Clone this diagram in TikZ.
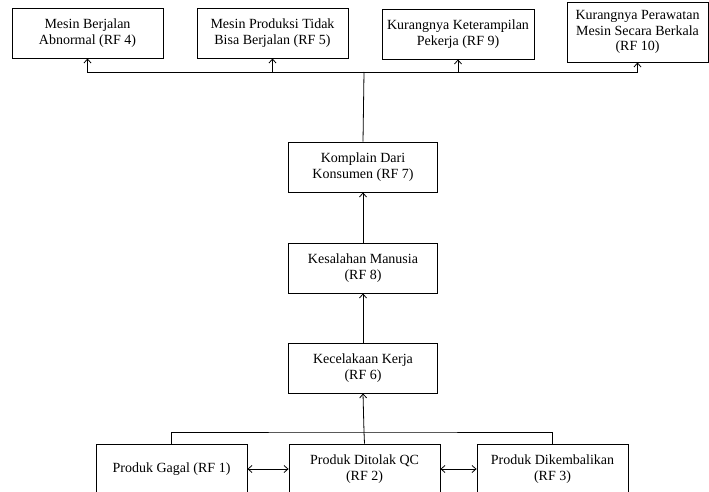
\documentclass[tikz,border=0pt]{standalone}
\usepackage{fontspec}
\setmainfont{Liberation Serif}
\usetikzlibrary{arrows.meta}

\begin{document}
\begin{tikzpicture}[
	x=1pt, y=-1pt,
	>={Straight Barb[length=4pt,width=7pt]},
	b/.style = {rectangle, draw=black, line width=0.8pt, align=center, inner sep=0pt,
		minimum width=151, minimum height=50, font=\fontsize{14}{15.5}\selectfont},
	r/.style = {->, line width=0.8pt},
	d/.style = {<->, line width=0.8pt},
	l/.style = {line width=0.8pt}
	]
	\useasboundingbox (0,0) rectangle (709,492);
	
	%Nodes
	\node[b]	(rf4)	at	(87.5, 33)	{Mesin Berjalan\\Abnormal (RF 4)};
	\node[b]	(rf5)	at	(272.5, 33)	{Mesin Produksi Tidak\\Bisa Berjalan (RF 5)};
	\node[b, minimum width=152]	(rf9)	at	(458, 34)	{Kurangnya Keterampilan\\Pekerja (RF 9)};
	\node[b, minimum width=141, minimum height=60]	(rf10)	at	(637.5, 32)	{Kurangnya Perawatan\\Mesin Secara Berkala\\(RF 10)};
	\node[b, minimum width=149]	(rf7)	at	(363, 167)	{Komplain Dari\\Konsumen (RF 7)};
	\node[b, minimum width=149]	(rf8)	at	(363, 268)	{Kesalahan Manusia\\(RF 8)};
	\node[b, minimum width=149]	(rf6)	at	(363, 368)	{Kecelakaan Kerja\\(RF 6)};
	\node[b]	(rf1)	at	(171.5, 469)	{Produk Gagal (RF 1)};
	\node[b]	(rf2)	at	(364.5, 469)	{Produk Ditolak QC\\(RF 2)};
	\node[b]	(rf3)	at	(552.5, 469)	{Produk Dikembalikan\\(RF 3)};
	\coordinate	(hub)	at	(364, 72);
	\coordinate	(low)	at	(364, 432);
	
	%Lines
	\draw[l]	(rf7.north)	--	(hub);
	\draw[r]	(hub)	-|	(rf4.south);
	\draw[r]	(hub)	-|	(rf5.south);
	\draw[r]	(hub)	-|	(rf9.south);
	\draw[r]	(hub)	-|	(rf10.south);
	\draw[r]	(rf8.north)	--	(rf7.south);
	\draw[r]	(rf6.north)	--	(rf8.south);
	\draw[l]	(rf1.north)	|-	(low)	-|	(rf3.north);
	\draw[l]	(rf2.north)	--	(low);
	\draw[r]	(low)	--	(rf6.south);
	\draw[d]	(rf1)	--	(rf2);
	\draw[d]	(rf2)	--	(rf3);
	
\end{tikzpicture}
\end{document}
